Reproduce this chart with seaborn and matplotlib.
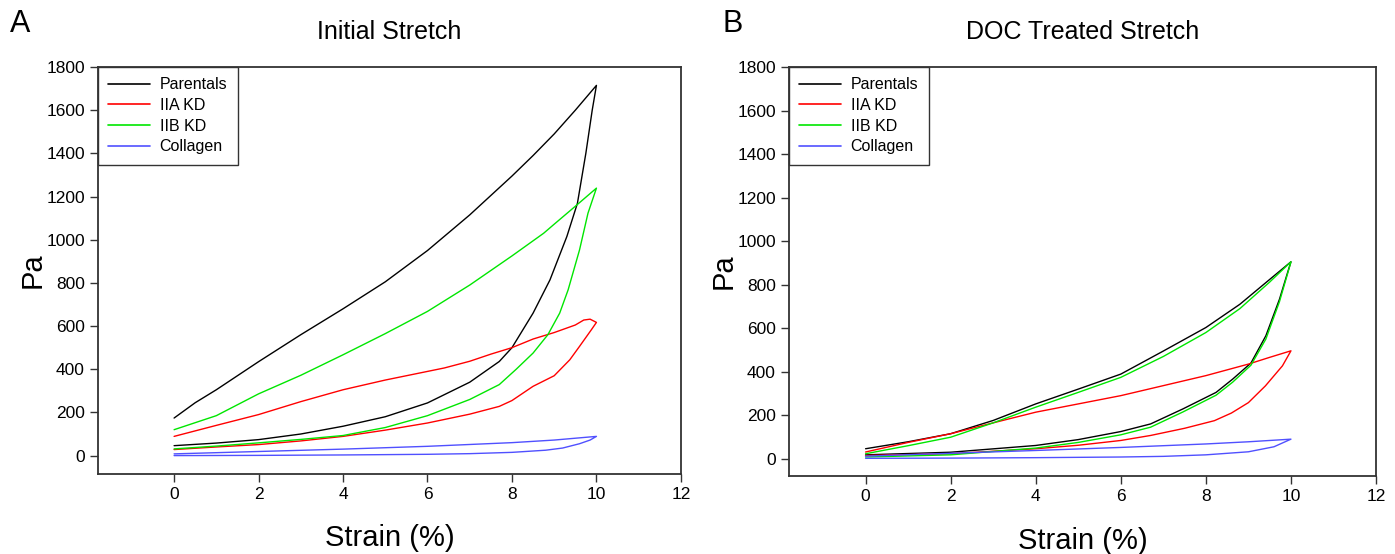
import matplotlib
matplotlib.use("Agg")
import matplotlib.pyplot as plt
import numpy as np
import pandas as pd
import seaborn as sns

# ---- Panel A: Initial Stretch (loading branch then unloading branch) ----
a_parentals_strain = [0, 1, 2, 3, 4, 5, 6, 7, 7.7, 8, 8.5, 8.9, 9.3, 9.55, 9.75, 9.9, 10,
                      9.5, 9, 8.5, 8, 7.5, 7, 6, 5, 4, 3, 2, 1, 0.5, 0]
a_parentals_pa = [46, 58, 74, 100, 136, 180, 244, 340, 436, 500, 660, 814, 1015, 1169, 1401, 1600, 1715,
                  1600, 1490, 1390, 1295, 1205, 1115, 950, 805, 680, 560, 435, 305, 245, 174]

a_iia_strain = [0, 1, 2, 3, 4, 5, 6, 7, 7.7, 8, 8.5, 9, 9.37, 9.6, 9.88, 10,
                9.85, 9.7, 9.5, 9, 8.5, 8, 7.5, 7, 6.4, 6, 5, 4, 3, 2, 1, 0]
a_iia_pa = [28, 40, 51, 68, 89, 118, 151, 192, 228, 255, 321, 370, 444, 506, 583, 617,
            632, 628, 605, 570, 540, 500, 470, 437, 406, 390, 350, 305, 250, 190, 140, 89]

a_iib_strain = [0, 1, 2, 3, 4, 5, 6, 7, 7.7, 8.1, 8.5, 8.85, 9.13, 9.33, 9.6, 9.8, 10,
                9.5, 9, 8.75, 8, 7, 6, 5, 4, 3, 2, 1, 0]
a_iib_pa = [31, 44, 59, 75, 93, 130, 185, 260, 329, 400, 475, 560, 660, 768, 953, 1123, 1239,
            1155, 1072, 1030, 925, 790, 668, 565, 467, 372, 286, 185, 120]

a_collagen_strain = [0, 2, 4, 6, 7, 8, 8.8, 9.2, 9.6, 9.85, 10,
                     9, 8, 6, 4, 2, 0]
a_collagen_pa = [0, 1, 3, 6, 9, 15, 25, 35, 55, 72, 89,
                 72, 60, 43, 30, 19, 8]

# ---- Panel B: DOC Treated Stretch ----
b_parentals_strain = [0, 2, 4, 5, 6, 6.7, 7.46, 8.24, 8.63, 9.06, 9.41, 9.73, 9.92, 10,
                      9.5, 8.8, 8, 7, 6, 5, 4, 3, 2, 1, 0]
b_parentals_pa = [18, 30, 61, 88, 125, 160, 229, 305, 366, 440, 565, 733, 855, 905,
                  824, 710, 603, 495, 389, 320, 252, 176, 115, 78, 46]

b_iia_strain = [0, 2, 4, 5, 6, 6.7, 7.5, 8.2, 8.6, 9, 9.4, 9.8, 10,
                9.5, 9, 8, 7, 6, 5, 4, 3, 2, 1, 0]
b_iia_pa = [15, 23, 46, 62, 84, 107, 140, 175, 210, 258, 335, 427, 496,
            466, 435, 382, 336, 290, 252, 214, 165, 115, 75, 31]

b_iib_strain = [0, 2, 4, 5, 6, 6.7, 7.46, 8.24, 8.63, 9.06, 9.41, 9.73, 9.92, 10,
                9.5, 8.8, 8, 7, 6, 5, 4, 3, 2, 1, 0]
b_iib_pa = [8, 18, 49, 75, 110, 145, 215, 292, 352, 430, 550, 722, 850, 905,
            812, 690, 580, 470, 374, 305, 237, 165, 99, 60, 23]

b_collagen_strain = [0, 2, 4, 6, 7, 8, 9, 9.6, 10,
                     9, 8, 6, 4, 2, 0]
b_collagen_pa = [2, 3, 5, 8, 11, 18, 32, 55, 90,
                 78, 68, 52, 38, 25, 12]

groups = ["Parentals", "IIA KD", "IIB KD", "Collagen"]
colors = {"Parentals": "#000000", "IIA KD": "#ff0000",
          "IIB KD": "#00e600", "Collagen": "#5050ff"}


def make_frame(series):
    rows = []
    for name, xs, ys in series:
        for i, (x, y) in enumerate(zip(xs, ys)):
            rows.append({"group": name, "strain": x, "pa": y, "order": i})
    return pd.DataFrame(rows)


df_a = make_frame([
    ("Parentals", a_parentals_strain, a_parentals_pa),
    ("IIA KD", a_iia_strain, a_iia_pa),
    ("IIB KD", a_iib_strain, a_iib_pa),
    ("Collagen", a_collagen_strain, a_collagen_pa),
])
df_b = make_frame([
    ("Parentals", b_parentals_strain, b_parentals_pa),
    ("IIA KD", b_iia_strain, b_iia_pa),
    ("IIB KD", b_iib_strain, b_iib_pa),
    ("Collagen", b_collagen_strain, b_collagen_pa),
])

sns.set_style("ticks")
plt.rcParams["font.family"] = ["Liberation Sans", "DejaVu Sans"]
plt.rcParams["text.color"] = "black"
plt.rcParams["axes.labelcolor"] = "black"
plt.rcParams["xtick.color"] = "black"
plt.rcParams["ytick.color"] = "black"

fig = plt.figure(figsize=(13.95, 5.54), dpi=100)
ax_a = fig.add_axes([0.0703, 0.1445, 0.4178, 0.7345])
ax_b = fig.add_axes([0.5656, 0.1405, 0.4208, 0.7385])

panels = [(ax_a, df_a, "Initial Stretch", "A", 0.007, (-85, 1800)),
          (ax_b, df_b, "DOC Treated Stretch", "B", 0.518, (-80, 1800))]

for ax, df, title, letter, letter_x, ylim in panels:
    sns.lineplot(data=df, x="strain", y="pa", hue="group", hue_order=groups,
                 palette=colors, sort=False, estimator=None, linewidth=1.0, ax=ax)
    ax.set_xlim(-1.8, 12)
    ax.set_ylim(*ylim)
    ax.set_xticks(range(0, 13, 2))
    ax.set_yticks(range(0, 1801, 200))
    ax.tick_params(labelsize=12.5, length=6, width=1, color="#333333", direction="out")
    for sp in ax.spines.values():
        sp.set_visible(True)
        sp.set_color("#333333")
        sp.set_linewidth(1.3)
    ax.set_xlabel("Strain (%)", fontsize=21, labelpad=16)
    ax.set_ylabel("Pa", fontsize=21, labelpad=0)
    ax.set_title(title, fontsize=18, pad=20)
    leg = ax.legend(loc="upper left", fontsize=11.5, frameon=True, fancybox=False,
                    borderaxespad=0, labelspacing=0.35, handlelength=2.6,
                    borderpad=0.65, handletextpad=0.6)
    leg.get_frame().set_edgecolor("#333333")
    leg.get_frame().set_linewidth(1.0)
    leg.get_frame().set_alpha(1)
    for h in leg.get_lines():
        h.set_linewidth(1.2)
    fig.text(letter_x, 0.984, letter, fontsize=22, va="top", ha="left")

fig.savefig("out.png", dpi=100)
